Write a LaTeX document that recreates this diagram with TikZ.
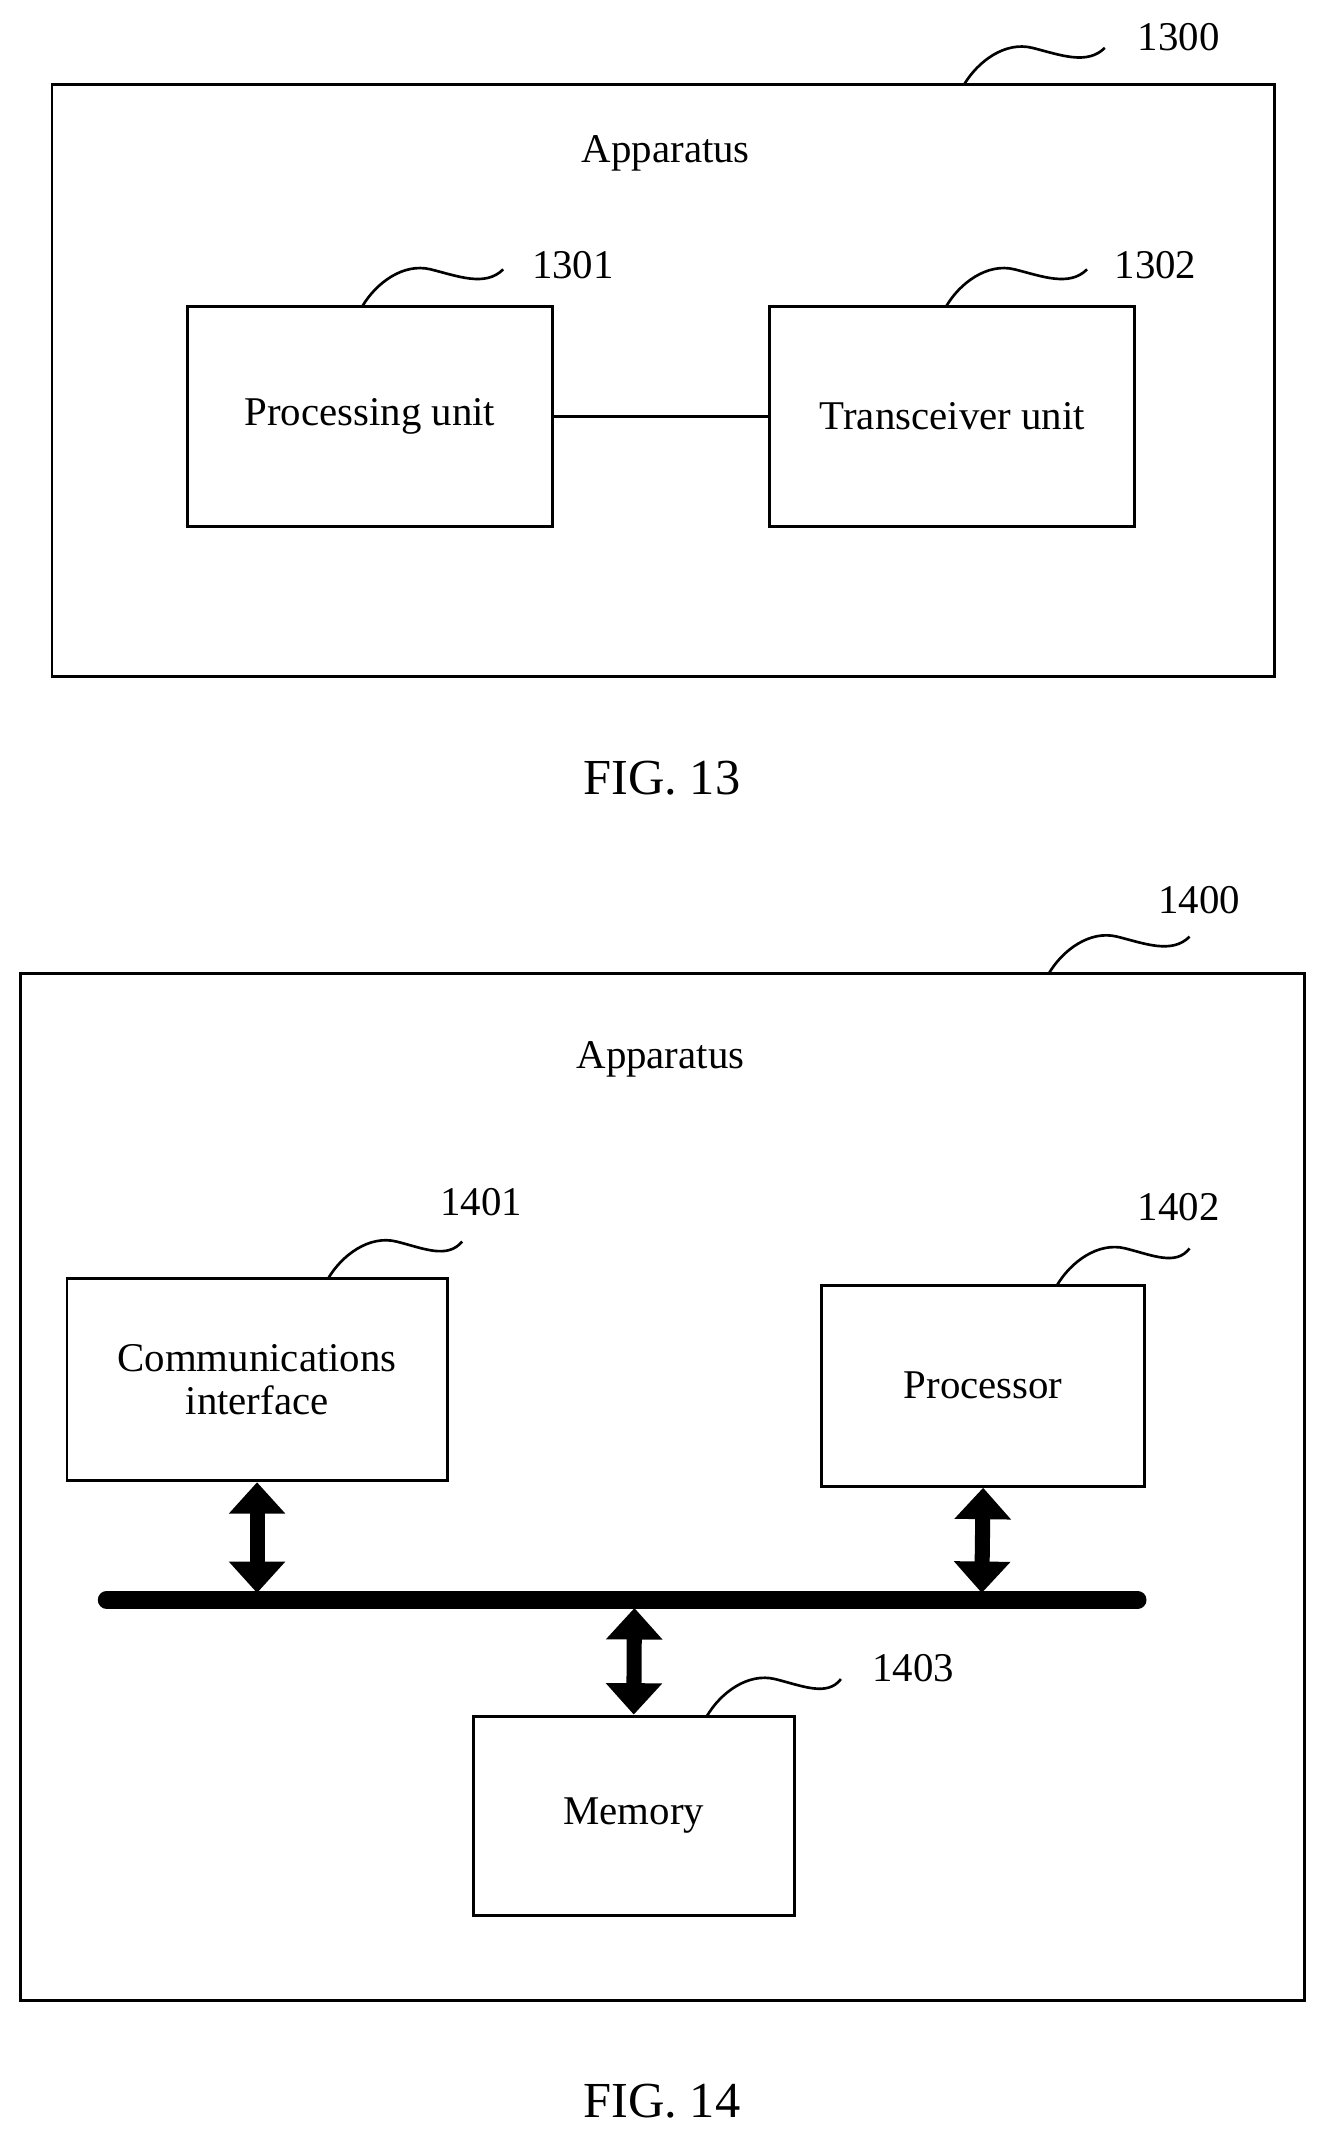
\documentclass[tikz,border=0pt]{standalone}
\usepackage{fontspec}
\setmainfont{Liberation Serif}
\usetikzlibrary{arrows.meta}
\begin{document}
\begin{tikzpicture}[x=0.02cm,y=-0.02cm,
  box/.style={draw,line width=1.2pt,inner sep=0pt,align=center,font=\fontsize{17}{20}\selectfont},
  lbl/.style={font=\fontsize{17}{20}\selectfont},
  sq/.style={line width=1.1pt},
  dbl/.style={line width=2.2mm,{Triangle[length=4.6mm,width=8mm]}-{Triangle[length=4.6mm,width=8mm]},shorten <=0pt,shorten >=0pt}]
\useasboundingbox (0,0) rectangle (969,1568);
% FIG 13
\draw[line width=1.2pt] (38,62) rectangle (932,495);
\node[lbl] (a13) at (487,112) {Apparatus};
\node[box,minimum width=5.34cm,minimum height=3.22cm] (pu) at (270.5,304.5) {Processing unit};
\node[box,minimum width=5.34cm,minimum height=3.22cm] (tu) at (696.5,304.5) {Transceiver unit};
\draw[line width=1.1pt] (pu.east) -- (tu.west);
\coordinate (s0) at (705,62);
\draw[sq] (s0) .. controls (715,45) and (735,30) .. (755,35) .. controls (775,40) and (795,48) .. (808,35);
\node[lbl] (n1300) at (862,27) {1300};
\draw[sq] (265,224) .. controls (275,207) and (295,192) .. (315,197) .. controls (335,202) and (355,210) .. (368,197);
\node[lbl] (n1301) at (419,194) {1301};
\draw[sq] (692,224) .. controls (702,207) and (722,192) .. (742,197) .. controls (762,202) and (782,210) .. (795,197);
\node[lbl] (n1302) at (845,194) {1302};
\node[font=\fontsize{21}{24}\selectfont] (f13) at (484,569) {FIG. 13};
% FIG 14
\draw[line width=1.2pt] (15,712) rectangle (954,1463);
\node[lbl] (a14) at (483,775) {Apparatus};
\node[box,minimum width=5.56cm,minimum height=2.96cm] (ci) at (188,1009) {Communications\\[-2pt]interface};
\node[box,minimum width=4.72cm,minimum height=2.94cm] (pr) at (719,1013.5) {Processor};
\node[box,minimum width=4.70cm,minimum height=2.92cm] (me) at (463.5,1328) {Memory};
\coordinate (b0) at (78,1170); \coordinate (b1) at (832,1170);
\draw[line width=2.6mm,line cap=round] (b0) -- (b1);
\coordinate (c1) at (188,1165); \coordinate (c2) at (718,1165); \coordinate (c3) at (464,1176);
\draw[dbl] (ci.south) -- (c1);
\draw[dbl] (pr.south) -- (c2);
\draw[dbl] (c3) -- (me.north);
\draw[sq] (767,712) .. controls (777,695) and (797,680) .. (817,685) .. controls (837,690) and (857,698) .. (870,685);
\node[lbl] (n1400) at (877,658) {1400};
\draw[sq] (240,935) .. controls (250,918) and (270,903) .. (290,908) .. controls (310,913) and (327,921) .. (338,908);
\node[lbl] (n1401) at (352,879) {1401};
\draw[sq] (773,940) .. controls (783,923) and (803,908) .. (823,913) .. controls (843,918) and (860,926) .. (870,913);
\node[lbl] (n1402) at (862,883) {1402};
\draw[sq] (517,1255) .. controls (527,1238) and (547,1223) .. (567,1228) .. controls (587,1233) and (605,1241) .. (615,1228);
\node[lbl] (n1403) at (668,1220) {1403};
\node[font=\fontsize{21}{24}\selectfont] (f14) at (484,1537) {FIG. 14};
\end{tikzpicture}
\end{document}
